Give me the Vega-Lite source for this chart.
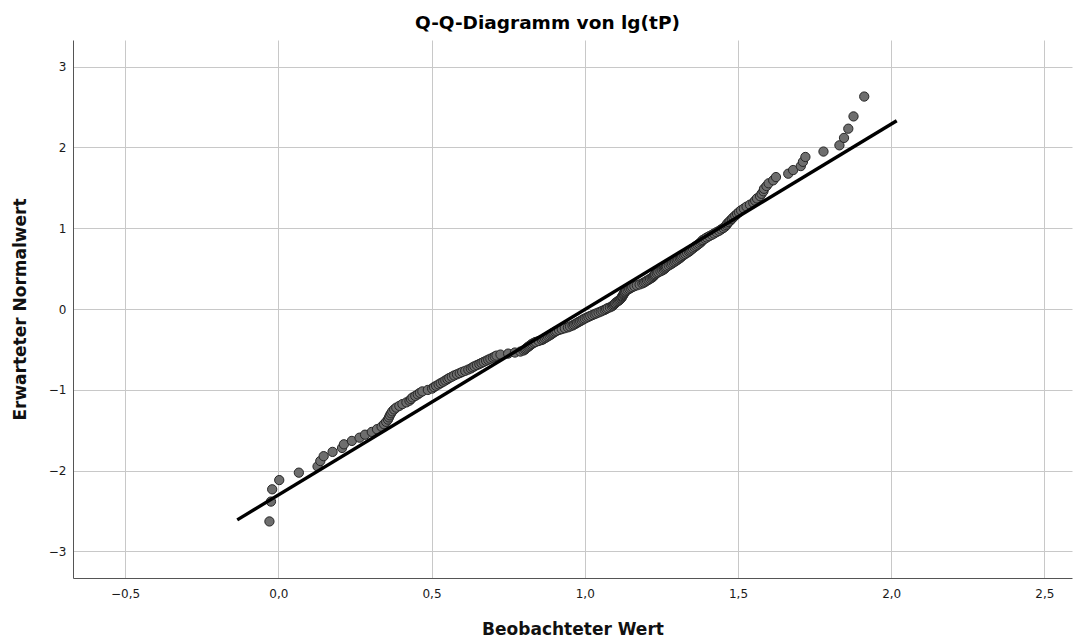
{
  "$schema": "https://vega.github.io/schema/vega-lite/v6.json",
  "width": 999,
  "height": 538,
  "autosize": {"type": "none"},
  "padding": {"left": 73, "top": 40, "right": 11, "bottom": 62},
  "title": {
    "text": "Q-Q-Diagramm von lg(tP)",
    "font": "DejaVu Sans",
    "fontSize": 18.5,
    "fontWeight": "bold",
    "color": "#000000",
    "anchor": "middle",
    "dx": -25,
    "offset": 8
  },
  "datasets": {
    "punkte": [
      {"beobachtet": -0.029, "erwartet": -2.63},
      {"beobachtet": -0.024, "erwartet": -2.384},
      {"beobachtet": -0.02, "erwartet": -2.232},
      {"beobachtet": 0.003, "erwartet": -2.118},
      {"beobachtet": 0.067, "erwartet": -2.026},
      {"beobachtet": 0.128, "erwartet": -1.949},
      {"beobachtet": 0.137, "erwartet": -1.882},
      {"beobachtet": 0.148, "erwartet": -1.822},
      {"beobachtet": 0.177, "erwartet": -1.769},
      {"beobachtet": 0.208, "erwartet": -1.72},
      {"beobachtet": 0.214, "erwartet": -1.675},
      {"beobachtet": 0.24, "erwartet": -1.633},
      {"beobachtet": 0.265, "erwartet": -1.593},
      {"beobachtet": 0.283, "erwartet": -1.556},
      {"beobachtet": 0.305, "erwartet": -1.522},
      {"beobachtet": 0.322, "erwartet": -1.488},
      {"beobachtet": 0.337, "erwartet": -1.457},
      {"beobachtet": 0.345, "erwartet": -1.426},
      {"beobachtet": 0.352, "erwartet": -1.397},
      {"beobachtet": 0.358, "erwartet": -1.369},
      {"beobachtet": 0.361, "erwartet": -1.342},
      {"beobachtet": 0.364, "erwartet": -1.316},
      {"beobachtet": 0.368, "erwartet": -1.291},
      {"beobachtet": 0.372, "erwartet": -1.267},
      {"beobachtet": 0.378, "erwartet": -1.243},
      {"beobachtet": 0.385, "erwartet": -1.221},
      {"beobachtet": 0.395, "erwartet": -1.199},
      {"beobachtet": 0.405, "erwartet": -1.177},
      {"beobachtet": 0.418, "erwartet": -1.156},
      {"beobachtet": 0.428, "erwartet": -1.135},
      {"beobachtet": 0.433, "erwartet": -1.115},
      {"beobachtet": 0.438, "erwartet": -1.095},
      {"beobachtet": 0.447, "erwartet": -1.076},
      {"beobachtet": 0.455, "erwartet": -1.057},
      {"beobachtet": 0.462, "erwartet": -1.038},
      {"beobachtet": 0.47, "erwartet": -1.02},
      {"beobachtet": 0.488, "erwartet": -1.002},
      {"beobachtet": 0.502, "erwartet": -0.985},
      {"beobachtet": 0.508, "erwartet": -0.967},
      {"beobachtet": 0.515, "erwartet": -0.951},
      {"beobachtet": 0.523, "erwartet": -0.934},
      {"beobachtet": 0.53, "erwartet": -0.918},
      {"beobachtet": 0.538, "erwartet": -0.901},
      {"beobachtet": 0.545, "erwartet": -0.885},
      {"beobachtet": 0.552, "erwartet": -0.869},
      {"beobachtet": 0.558, "erwartet": -0.854},
      {"beobachtet": 0.566, "erwartet": -0.839},
      {"beobachtet": 0.574, "erwartet": -0.823},
      {"beobachtet": 0.583, "erwartet": -0.808},
      {"beobachtet": 0.592, "erwartet": -0.794},
      {"beobachtet": 0.6, "erwartet": -0.779},
      {"beobachtet": 0.61, "erwartet": -0.765},
      {"beobachtet": 0.62, "erwartet": -0.75},
      {"beobachtet": 0.628, "erwartet": -0.736},
      {"beobachtet": 0.634, "erwartet": -0.722},
      {"beobachtet": 0.64, "erwartet": -0.709},
      {"beobachtet": 0.648, "erwartet": -0.695},
      {"beobachtet": 0.656, "erwartet": -0.681},
      {"beobachtet": 0.663, "erwartet": -0.668},
      {"beobachtet": 0.67, "erwartet": -0.655},
      {"beobachtet": 0.678, "erwartet": -0.641},
      {"beobachtet": 0.685, "erwartet": -0.628},
      {"beobachtet": 0.692, "erwartet": -0.615},
      {"beobachtet": 0.7, "erwartet": -0.602},
      {"beobachtet": 0.706, "erwartet": -0.589},
      {"beobachtet": 0.712, "erwartet": -0.577},
      {"beobachtet": 0.725, "erwartet": -0.564},
      {"beobachtet": 0.75, "erwartet": -0.552},
      {"beobachtet": 0.772, "erwartet": -0.539},
      {"beobachtet": 0.79, "erwartet": -0.527},
      {"beobachtet": 0.8, "erwartet": -0.514},
      {"beobachtet": 0.805, "erwartet": -0.502},
      {"beobachtet": 0.808, "erwartet": -0.49},
      {"beobachtet": 0.812, "erwartet": -0.478},
      {"beobachtet": 0.816, "erwartet": -0.466},
      {"beobachtet": 0.82, "erwartet": -0.455},
      {"beobachtet": 0.824, "erwartet": -0.443},
      {"beobachtet": 0.828, "erwartet": -0.431},
      {"beobachtet": 0.834, "erwartet": -0.419},
      {"beobachtet": 0.84, "erwartet": -0.408},
      {"beobachtet": 0.85, "erwartet": -0.396},
      {"beobachtet": 0.86, "erwartet": -0.384},
      {"beobachtet": 0.865, "erwartet": -0.373},
      {"beobachtet": 0.87, "erwartet": -0.361},
      {"beobachtet": 0.875, "erwartet": -0.35},
      {"beobachtet": 0.88, "erwartet": -0.338},
      {"beobachtet": 0.885, "erwartet": -0.327},
      {"beobachtet": 0.89, "erwartet": -0.316},
      {"beobachtet": 0.894, "erwartet": -0.304},
      {"beobachtet": 0.898, "erwartet": -0.293},
      {"beobachtet": 0.903, "erwartet": -0.282},
      {"beobachtet": 0.908, "erwartet": -0.271},
      {"beobachtet": 0.916, "erwartet": -0.26},
      {"beobachtet": 0.925, "erwartet": -0.249},
      {"beobachtet": 0.935, "erwartet": -0.238},
      {"beobachtet": 0.945, "erwartet": -0.227},
      {"beobachtet": 0.952, "erwartet": -0.216},
      {"beobachtet": 0.96, "erwartet": -0.205},
      {"beobachtet": 0.965, "erwartet": -0.194},
      {"beobachtet": 0.97, "erwartet": -0.183},
      {"beobachtet": 0.975, "erwartet": -0.172},
      {"beobachtet": 0.98, "erwartet": -0.161},
      {"beobachtet": 0.985, "erwartet": -0.151},
      {"beobachtet": 0.99, "erwartet": -0.14},
      {"beobachtet": 0.995, "erwartet": -0.129},
      {"beobachtet": 1.0, "erwartet": -0.118},
      {"beobachtet": 1.006, "erwartet": -0.107},
      {"beobachtet": 1.012, "erwartet": -0.097},
      {"beobachtet": 1.018, "erwartet": -0.086},
      {"beobachtet": 1.025, "erwartet": -0.075},
      {"beobachtet": 1.032, "erwartet": -0.064},
      {"beobachtet": 1.038, "erwartet": -0.054},
      {"beobachtet": 1.045, "erwartet": -0.043},
      {"beobachtet": 1.052, "erwartet": -0.032},
      {"beobachtet": 1.058, "erwartet": -0.021},
      {"beobachtet": 1.065, "erwartet": -0.011},
      {"beobachtet": 1.07, "erwartet": 0.0},
      {"beobachtet": 1.075, "erwartet": 0.011},
      {"beobachtet": 1.082, "erwartet": 0.021},
      {"beobachtet": 1.088, "erwartet": 0.032},
      {"beobachtet": 1.092, "erwartet": 0.043},
      {"beobachtet": 1.095, "erwartet": 0.054},
      {"beobachtet": 1.098, "erwartet": 0.064},
      {"beobachtet": 1.1, "erwartet": 0.075},
      {"beobachtet": 1.104, "erwartet": 0.086},
      {"beobachtet": 1.108, "erwartet": 0.097},
      {"beobachtet": 1.112, "erwartet": 0.107},
      {"beobachtet": 1.115, "erwartet": 0.118},
      {"beobachtet": 1.118, "erwartet": 0.129},
      {"beobachtet": 1.12, "erwartet": 0.14},
      {"beobachtet": 1.122, "erwartet": 0.151},
      {"beobachtet": 1.123, "erwartet": 0.161},
      {"beobachtet": 1.125, "erwartet": 0.172},
      {"beobachtet": 1.127, "erwartet": 0.183},
      {"beobachtet": 1.128, "erwartet": 0.194},
      {"beobachtet": 1.13, "erwartet": 0.205},
      {"beobachtet": 1.132, "erwartet": 0.216},
      {"beobachtet": 1.135, "erwartet": 0.227},
      {"beobachtet": 1.14, "erwartet": 0.238},
      {"beobachtet": 1.145, "erwartet": 0.249},
      {"beobachtet": 1.15, "erwartet": 0.26},
      {"beobachtet": 1.155, "erwartet": 0.271},
      {"beobachtet": 1.162, "erwartet": 0.282},
      {"beobachtet": 1.17, "erwartet": 0.293},
      {"beobachtet": 1.179, "erwartet": 0.304},
      {"beobachtet": 1.188, "erwartet": 0.316},
      {"beobachtet": 1.193, "erwartet": 0.327},
      {"beobachtet": 1.198, "erwartet": 0.338},
      {"beobachtet": 1.203, "erwartet": 0.35},
      {"beobachtet": 1.208, "erwartet": 0.361},
      {"beobachtet": 1.213, "erwartet": 0.373},
      {"beobachtet": 1.218, "erwartet": 0.384},
      {"beobachtet": 1.222, "erwartet": 0.396},
      {"beobachtet": 1.225, "erwartet": 0.408},
      {"beobachtet": 1.228, "erwartet": 0.419},
      {"beobachtet": 1.23, "erwartet": 0.431},
      {"beobachtet": 1.235, "erwartet": 0.443},
      {"beobachtet": 1.24, "erwartet": 0.455},
      {"beobachtet": 1.247, "erwartet": 0.466},
      {"beobachtet": 1.253, "erwartet": 0.478},
      {"beobachtet": 1.258, "erwartet": 0.49},
      {"beobachtet": 1.262, "erwartet": 0.502},
      {"beobachtet": 1.265, "erwartet": 0.514},
      {"beobachtet": 1.268, "erwartet": 0.527},
      {"beobachtet": 1.274, "erwartet": 0.539},
      {"beobachtet": 1.28, "erwartet": 0.552},
      {"beobachtet": 1.285, "erwartet": 0.564},
      {"beobachtet": 1.29, "erwartet": 0.577},
      {"beobachtet": 1.295, "erwartet": 0.589},
      {"beobachtet": 1.3, "erwartet": 0.602},
      {"beobachtet": 1.305, "erwartet": 0.615},
      {"beobachtet": 1.31, "erwartet": 0.628},
      {"beobachtet": 1.314, "erwartet": 0.641},
      {"beobachtet": 1.318, "erwartet": 0.655},
      {"beobachtet": 1.323, "erwartet": 0.668},
      {"beobachtet": 1.328, "erwartet": 0.681},
      {"beobachtet": 1.334, "erwartet": 0.695},
      {"beobachtet": 1.34, "erwartet": 0.709},
      {"beobachtet": 1.344, "erwartet": 0.722},
      {"beobachtet": 1.348, "erwartet": 0.736},
      {"beobachtet": 1.353, "erwartet": 0.75},
      {"beobachtet": 1.358, "erwartet": 0.765},
      {"beobachtet": 1.363, "erwartet": 0.779},
      {"beobachtet": 1.368, "erwartet": 0.794},
      {"beobachtet": 1.373, "erwartet": 0.808},
      {"beobachtet": 1.378, "erwartet": 0.823},
      {"beobachtet": 1.382, "erwartet": 0.839},
      {"beobachtet": 1.385, "erwartet": 0.854},
      {"beobachtet": 1.392, "erwartet": 0.869},
      {"beobachtet": 1.398, "erwartet": 0.885},
      {"beobachtet": 1.406, "erwartet": 0.901},
      {"beobachtet": 1.415, "erwartet": 0.918},
      {"beobachtet": 1.422, "erwartet": 0.934},
      {"beobachtet": 1.43, "erwartet": 0.951},
      {"beobachtet": 1.438, "erwartet": 0.967},
      {"beobachtet": 1.445, "erwartet": 0.985},
      {"beobachtet": 1.452, "erwartet": 1.002},
      {"beobachtet": 1.458, "erwartet": 1.02},
      {"beobachtet": 1.462, "erwartet": 1.038},
      {"beobachtet": 1.465, "erwartet": 1.057},
      {"beobachtet": 1.47, "erwartet": 1.076},
      {"beobachtet": 1.475, "erwartet": 1.095},
      {"beobachtet": 1.48, "erwartet": 1.115},
      {"beobachtet": 1.485, "erwartet": 1.135},
      {"beobachtet": 1.491, "erwartet": 1.156},
      {"beobachtet": 1.497, "erwartet": 1.177},
      {"beobachtet": 1.503, "erwartet": 1.199},
      {"beobachtet": 1.51, "erwartet": 1.221},
      {"beobachtet": 1.519, "erwartet": 1.243},
      {"beobachtet": 1.528, "erwartet": 1.267},
      {"beobachtet": 1.539, "erwartet": 1.291},
      {"beobachtet": 1.55, "erwartet": 1.316},
      {"beobachtet": 1.556, "erwartet": 1.342},
      {"beobachtet": 1.562, "erwartet": 1.369},
      {"beobachtet": 1.572, "erwartet": 1.397},
      {"beobachtet": 1.577, "erwartet": 1.426},
      {"beobachtet": 1.583, "erwartet": 1.457},
      {"beobachtet": 1.585, "erwartet": 1.488},
      {"beobachtet": 1.593, "erwartet": 1.522},
      {"beobachtet": 1.6, "erwartet": 1.556},
      {"beobachtet": 1.615, "erwartet": 1.593},
      {"beobachtet": 1.624, "erwartet": 1.633},
      {"beobachtet": 1.664, "erwartet": 1.675},
      {"beobachtet": 1.68, "erwartet": 1.72},
      {"beobachtet": 1.705, "erwartet": 1.769},
      {"beobachtet": 1.712, "erwartet": 1.822},
      {"beobachtet": 1.72, "erwartet": 1.882},
      {"beobachtet": 1.779, "erwartet": 1.949},
      {"beobachtet": 1.831, "erwartet": 2.026},
      {"beobachtet": 1.846, "erwartet": 2.118},
      {"beobachtet": 1.86, "erwartet": 2.232},
      {"beobachtet": 1.877, "erwartet": 2.384},
      {"beobachtet": 1.912, "erwartet": 2.63}
    ],
    "linie": [
      {"beobachtet": -0.134, "erwartet": -2.61},
      {"beobachtet": 2.018, "erwartet": 2.33}
    ]
  },
  "layer": [
    {
      "data": {"name": "punkte"},
      "mark": {
        "type": "point",
        "shape": "circle",
        "filled": true,
        "size": 86,
        "fill": "#6e6e6e",
        "stroke": "#262626",
        "strokeWidth": 1,
        "opacity": 1
      },
      "encoding": {
        "x": {
          "field": "beobachtet",
          "type": "quantitative",
          "scale": {"domain": [-0.67, 2.59], "nice": false, "zero": false},
          "axis": {
            "title": "Beobachteter Wert",
            "values": [-0.5, 0, 0.5, 1, 1.5, 2, 2.5],
            "labelExpr": "replace(replace(format(datum.value, '.1f'), '.', ','), '-', '\u2212')",
            "titlePadding": 22
          }
        },
        "y": {
          "field": "erwartet",
          "type": "quantitative",
          "scale": {"domain": [-3.33, 3.33], "nice": false, "zero": false},
          "axis": {
            "title": "Erwarteter Normalwert",
            "values": [-3, -2, -1, 0, 1, 2, 3],
            "labelExpr": "replace(format(datum.value, 'd'), '-', '\u2212')",
            "titlePadding": 19
          }
        }
      }
    },
    {
      "data": {"name": "linie"},
      "mark": {"type": "line", "color": "#000000", "strokeWidth": 3.4, "strokeCap": "butt"},
      "encoding": {
        "x": {"field": "beobachtet", "type": "quantitative"},
        "y": {"field": "erwartet", "type": "quantitative"}
      }
    }
  ],
  "config": {
    "view": {"stroke": null},
    "font": "DejaVu Sans",
    "axis": {
      "domainColor": "#555555",
      "domainWidth": 1,
      "gridColor": "#c8c8c8",
      "gridWidth": 1,
      "grid": true,
      "ticks": false,
      "labelFont": "DejaVu Sans",
      "labelFontSize": 12,
      "labelColor": "#1a1a1a",
      "titleFont": "DejaVu Sans",
      "titleFontSize": 17,
      "titleFontWeight": "bold",
      "titleColor": "#111111"
    },
    "axisX": {"labelPadding": 10},
    "axisY": {"labelPadding": 7}
  }
}
